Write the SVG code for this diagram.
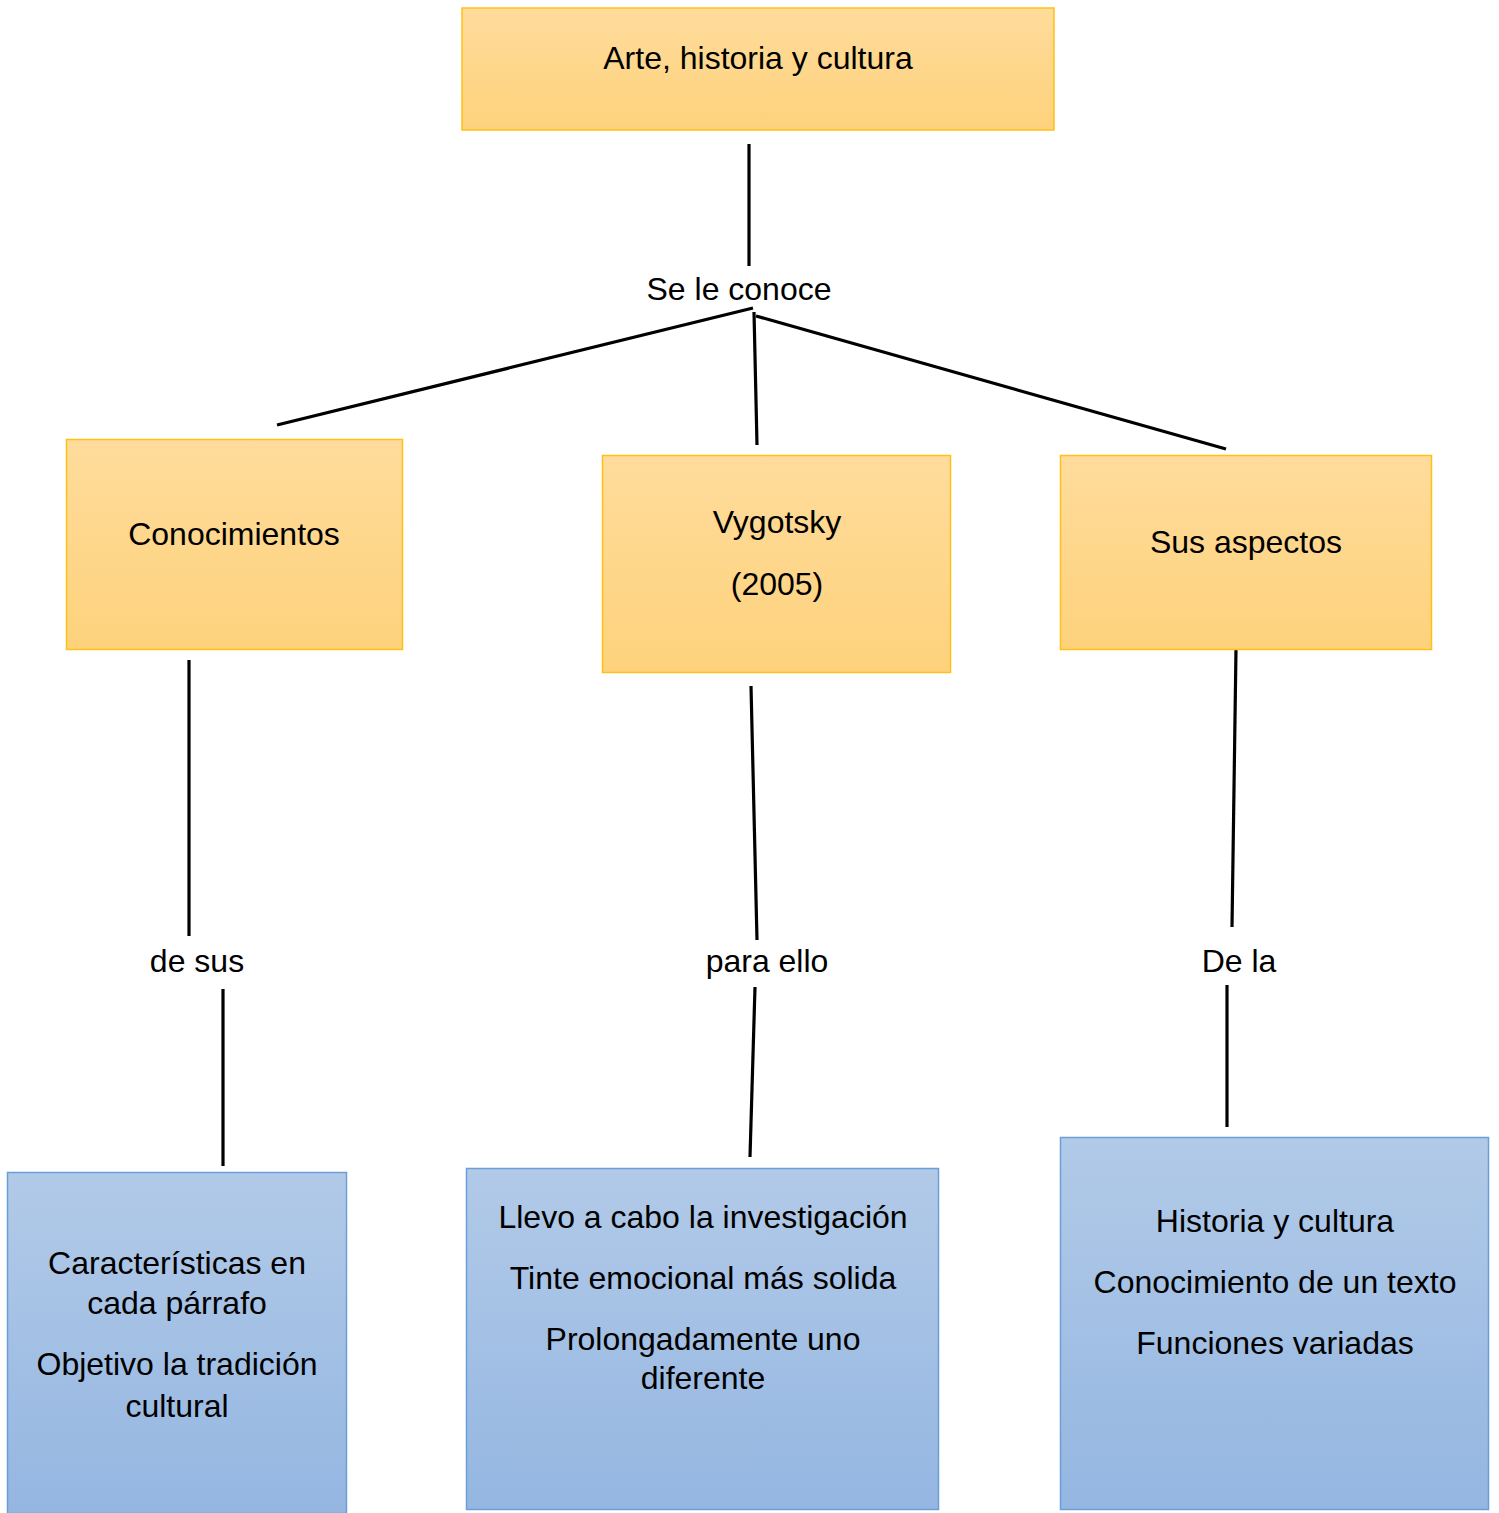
<svg xmlns="http://www.w3.org/2000/svg" width="1499" height="1513" viewBox="0 0 1499 1513">
<defs>
<linearGradient id="gO" x1="0" y1="0" x2="0" y2="1"><stop offset="0" stop-color="#FFDC9C"/><stop offset="1" stop-color="#FED27C"/></linearGradient>
<linearGradient id="gB" x1="0" y1="0" x2="0" y2="1"><stop offset="0" stop-color="#B2CAE8"/><stop offset="1" stop-color="#94B6E1"/></linearGradient>
<style>
.o{fill:url(#gO);stroke:#FFC117;stroke-width:1.5}
.b{fill:url(#gB);stroke:#6A9FD8;stroke-width:1.5}
text{font-family:"Liberation Sans",Arial,sans-serif;font-size:32px;fill:#000;text-anchor:middle}
.c line{stroke:#000;stroke-width:3.2;stroke-linecap:butt}
</style>
</defs>
<rect width="1499" height="1513" fill="#fff"/>
<g class="c" id="connectors">
<line x1="749" y1="144" x2="749" y2="266"/>
<line x1="753" y1="308" x2="277" y2="425"/>
<line x1="754" y1="312" x2="757" y2="445"/>
<line x1="756" y1="316" x2="1226" y2="449"/>
<line x1="189" y1="660" x2="189" y2="936"/>
<line x1="223" y1="989" x2="223" y2="1166"/>
<line x1="751" y1="686" x2="757" y2="940"/>
<line x1="755" y1="987" x2="750" y2="1157"/>
<line x1="1236" y1="649" x2="1232" y2="927"/>
<line x1="1227" y1="985" x2="1227" y2="1127"/>
</g>
<g id="labels">
<text x="739" y="300">Se le conoce</text>
<text x="197" y="972">de sus</text>
<text x="767" y="972">para ello</text>
<text x="1239" y="972">De la</text>
</g>
<g id="n-top"><rect class="o" x="462" y="8" width="592" height="122"/><text x="758" y="69">Arte, historia y cultura</text></g>
<g id="n-conoc"><rect class="o" x="66.5" y="439.5" width="336" height="210"/><text x="234" y="545">Conocimientos</text></g>
<g id="n-vyg"><rect class="o" x="602.5" y="455.5" width="348" height="217"/><text x="777" y="533">Vygotsky</text><text x="777" y="595">(2005)</text></g>
<g id="n-sus"><rect class="o" x="1060.5" y="455.5" width="371" height="194"/><text x="1246" y="553">Sus aspectos</text></g>
<g id="n-car"><rect class="b" x="7.5" y="1172.5" width="339" height="341"/><text x="177" y="1274">Características en</text><text x="177" y="1314">cada párrafo</text><text x="177" y="1375">Objetivo la tradición</text><text x="177" y="1417">cultural</text></g>
<g id="n-llevo"><rect class="b" x="466.5" y="1168.5" width="472" height="341"/><text x="703" y="1228">Llevo a cabo la investigación</text><text x="703" y="1289">Tinte emocional más solida</text><text x="703" y="1350">Prolongadamente uno</text><text x="703" y="1389">diferente</text></g>
<g id="n-hist"><rect class="b" x="1060.5" y="1137.5" width="428" height="372"/><text x="1275" y="1232">Historia y cultura</text><text x="1275" y="1293">Conocimiento de un texto</text><text x="1275" y="1354">Funciones variadas</text></g>
</svg>
